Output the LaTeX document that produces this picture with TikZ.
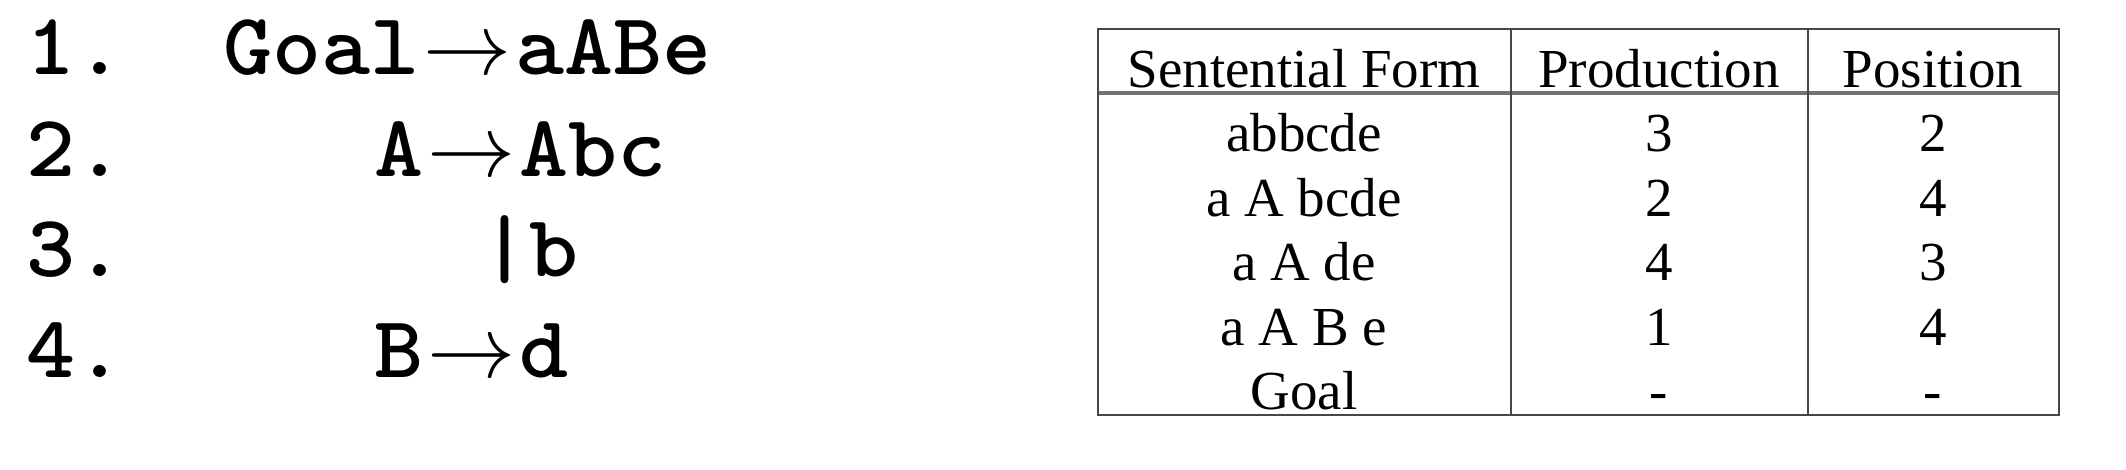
\RequirePackage{fix-cm}
\documentclass[tikz,border=0pt]{standalone}
\usepackage{fontspec}
\usepackage{graphicx}
\setmainfont{Liberation Serif}
\newcommand\prodarrow{\kern2pt$\rightarrow$\kern2pt}
\tikzset{
  lbl/.style={anchor=base west, inner sep=0pt, font=\ttfamily\bfseries\fontsize{44}{52}\selectfont},
  cell/.style={anchor=base, inner sep=0pt, font=\fontsize{27.5}{33}\selectfont},
  gridline/.style={line width=1.25pt, draw=black!72},
  headrule/.style={line width=2pt, draw=black!55},
}
\begin{document}
\begin{tikzpicture}[x=0.5pt, y=-0.5pt]
\useasboundingbox[fill=white] (0,0) rectangle (2126,470);
% grammar
\node[lbl] (n1) at (26,75) {\scalebox{1.06}[1]{1.}};
\node[lbl] (n2) at (26,177) {\scalebox{1.06}[1]{2.}};
\node[lbl] (n3) at (26,277) {\scalebox{1.06}[1]{3.}};
\node[lbl] (n4) at (26,378) {\scalebox{1.06}[1]{4.}};
\node[lbl] (p1) at (223,75) {\scalebox{1.06}[1]{Goal}\prodarrow\scalebox{1.06}[1]{aABe}};
\node[lbl] (p2) at (374,177) {\scalebox{1.06}[1]{A}\prodarrow\scalebox{1.06}[1]{Abc}};
\node[lbl] (p3) at (480,277) {\scalebox{1.06}[1]{|b}};
\node[lbl] (p4) at (374,378) {\scalebox{1.06}[1]{B}\prodarrow\scalebox{1.06}[1]{d}};
% table frame
\coordinate (tl) at (1098,29);
\coordinate (br) at (2059,415);
\coordinate (c1t) at (1511,29);
\coordinate (c1b) at (1511,415);
\coordinate (c2t) at (1808,29);
\coordinate (c2b) at (1808,415);
\coordinate (hl) at (1098,93);
\coordinate (hr) at (2059,93);
\draw[headrule] (hl) -- (hr);
\draw[gridline] (tl) rectangle (br);
\draw[gridline] (c1t) -- (c1b);
\draw[gridline] (c2t) -- (c2b);
% header
\node[cell] (h1) at (1304,88) {Sentential Form};
\node[cell] (h2) at (1659,88) {Production};
\node[cell] (h3) at (1933,88) {Position};
% rows
\node[cell] (s1) at (1304,152) {abbcde};
\node[cell] (s2) at (1304,217) {a A bcde};
\node[cell] (s3) at (1304,281) {a A de};
\node[cell] (s4) at (1304,345) {a A B e};
\node[cell] (s5) at (1304,409) {Goal};
\node[cell] (q1) at (1659,152) {3};
\node[cell] (q2) at (1659,217) {2};
\node[cell] (q3) at (1659,281) {4};
\node[cell] (q4) at (1659,345) {1};
\node[cell] (q5) at (1659,409) {-};
\node[cell] (o1) at (1933,152) {2};
\node[cell] (o2) at (1933,217) {4};
\node[cell] (o3) at (1933,281) {3};
\node[cell] (o4) at (1933,345) {4};
\node[cell] (o5) at (1933,409) {-};
\end{tikzpicture}
\end{document}
